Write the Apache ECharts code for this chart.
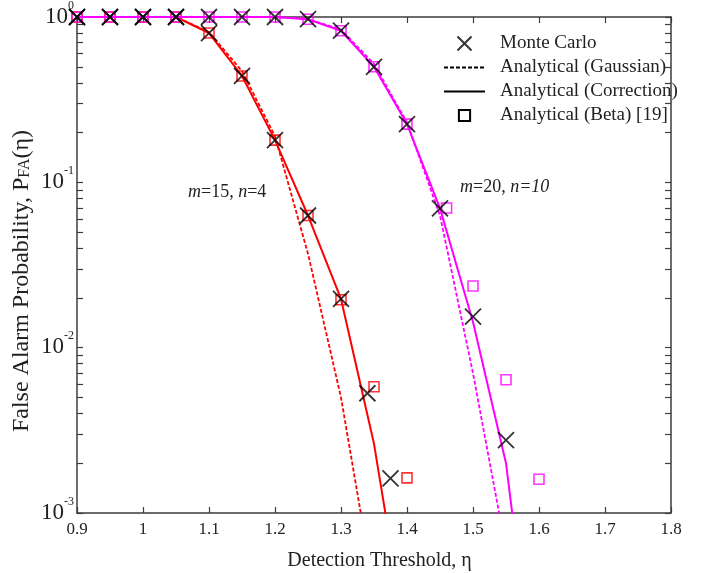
<!DOCTYPE html>
<html>
<head>
<meta charset="utf-8">
<script src="https://cdn.jsdelivr.net/npm/echarts@6/dist/echarts.min.js"></script>
<style>
html,body{margin:0;padding:0;background:#fff;}
#chart{width:708px;height:573px;}
</style>
</head>
<body>
<div id="chart"></div>
<script>
// ---------- data ----------
const xTicks = [0.9, 1.0, 1.1, 1.2, 1.3, 1.4, 1.5, 1.6, 1.7, 1.8];
const yLabelValues = [0.001, 0.01, 0.1, 1];

// m=15, n=4 (red)
const redEta = [0.9, 0.95, 1.0, 1.05, 1.1, 1.15, 1.2, 1.25, 1.3, 1.35, 1.4];
const redCorrection = [1, 1, 1, 1, 0.80, 0.44, 0.18, 0.063, 0.0197, 0.00262, 0.00016];
const redGaussEta = [0.9, 0.95, 1.0, 1.05, 1.1, 1.15, 1.2, 1.25, 1.3, 1.35];
const redGaussian = [1, 1, 1, 1, 0.81, 0.47, 0.19, 0.037, 0.005, 0.00034];
const redMCEta = [0.9, 0.95, 1.0, 1.05, 1.1, 1.15, 1.2, 1.25, 1.3, 1.34, 1.375];
const redMC = [1, 1, 1, 1, 0.80, 0.44, 0.18, 0.063, 0.0197, 0.0053, 0.00162];
const redBetaEta = [0.9, 0.95, 1.0, 1.05, 1.1, 1.15, 1.2, 1.25, 1.3, 1.35, 1.4];
const redBeta = [1, 1, 1, 1, 0.80, 0.44, 0.18, 0.063, 0.0195, 0.0058, 0.00163];

// m=20, n=10 (magenta)
const magEta = [0.9, 0.95, 1.0, 1.05, 1.1, 1.15, 1.2, 1.25, 1.3, 1.35, 1.4, 1.45, 1.5, 1.55, 1.6];
const magCorrection = [1, 1, 1, 1, 1, 1, 1, 0.97, 0.826, 0.50, 0.225, 0.0696, 0.0143, 0.0020, 0.00005];
const magGaussEta = [0.9, 0.95, 1.0, 1.05, 1.1, 1.15, 1.2, 1.25, 1.3, 1.35, 1.4, 1.45, 1.5, 1.55];
const magGaussian = [1, 1, 1, 1, 1, 1, 1, 0.97, 0.84, 0.52, 0.23, 0.063, 0.0070, 0.0006];
const magMCEta = [0.9, 0.95, 1.0, 1.05, 1.1, 1.15, 1.2, 1.25, 1.3, 1.35, 1.4, 1.45, 1.5, 1.55];
const magMC = [1, 1, 1, 1, 1, 1, 1, 0.97, 0.826, 0.50, 0.225, 0.0696, 0.0154, 0.00276];
const magBetaEta = [0.9, 0.95, 1.0, 1.05, 1.1, 1.15, 1.2, 1.25, 1.3, 1.35, 1.4, 1.46, 1.5, 1.55, 1.6];
const magBeta = [1, 1, 1, 1, 1, 1, 1, 0.97, 0.826, 0.50, 0.225, 0.07, 0.0236, 0.0064, 0.0016];

const legendNames = ['Monte Carlo', 'Analytical (Gaussian)', 'Analytical (Correction)', 'Analytical (Beta) [19]'];

// ---------- helpers ----------
const pair = (xs, ys) => xs.map((x, i) => [x, ys[i]]);
const FONT = '"Liberation Serif", "Times New Roman", serif';
const RED = '#ff0000', MAG = '#ff00ff', AX = '#3c3c3c', TXT = '#222';
const XPATH = 'path://M0,0L10,10M10,0L0,10';
const CLEAR = 'rgba(0,0,0,0)';

const minorTicks = [];
[0.001, 0.01, 0.1].forEach(d => { for (let k = 1; k <= 9; k++) minorTicks.push(+(d * k).toPrecision(3)); });
minorTicks.push(1);

const lineSeries = (name, data, color, dashed, z) => ({
  name, type: 'line', data, symbol: 'none', clip: true, z,
  lineStyle: { color, width: dashed ? 1.8 : 2, type: dashed ? [4, 2] : 'solid' },
  itemStyle: { color }
});
const squareSeries = (name, data, color, z) => ({
  name, type: 'scatter', data, symbol: 'rect', symbolSize: 10, z,
  itemStyle: { color: CLEAR, borderColor: color, borderWidth: 1.6 }
});

const chart = echarts.init(document.getElementById('chart'), null, { renderer: 'canvas' });

const xAxisBase = {
  type: 'value', min: 0.9, max: 1.8, interval: 0.1,
  axisLine: { show: true, onZero: false, lineStyle: { color: AX, width: 1.5 } },
  axisTick: { show: true, inside: true, length: 6, lineStyle: { color: AX, width: 1.2 } },
  splitLine: { show: false }
};
const yAxisBase = {
  type: 'log', logBase: 10, min: 0.001, max: 1,
  axisLine: { show: true, onZero: false, lineStyle: { color: AX, width: 1.5 } },
  axisTick: { show: true, inside: true, length: 6, customValues: minorTicks, lineStyle: { color: AX, width: 1.2 } },
  splitLine: { show: false }, minorTick: { show: false }
};

chart.setOption({
  animation: false,
  backgroundColor: '#fff',
  textStyle: { fontFamily: FONT },
  grid: { left: 77, right: 37, top: 17, bottom: 60, containLabel: false, outerBoundsMode: 'none' },
  xAxis: [
    Object.assign({}, xAxisBase, {
      position: 'bottom',
      axisLabel: { show: true, fontSize: 17, color: TXT, margin: 8, fontFamily: FONT,
        customValues: xTicks, formatter: v => String(+v.toFixed(1)) },
      name: 'Detection Threshold, η', nameLocation: 'middle', nameGap: 38, nameMoveOverlap: false,
      nameTextStyle: { fontSize: 20, color: TXT, fontFamily: FONT, padding: [0, 0, 0, 11] }
    }),
    Object.assign({}, xAxisBase, { position: 'top', axisLabel: { show: false } })
  ],
  yAxis: [
    Object.assign({}, yAxisBase, {
      position: 'left',
      axisLabel: {
        show: true, customValues: yLabelValues, margin: 3, color: TXT, fontFamily: FONT,
        padding: [0, 0, 6, 0],
        formatter: v => '{b|10}{s|' + Math.round(Math.log10(v)) + '}',
        rich: {
          b: { fontSize: 23, fontFamily: FONT, color: TXT, padding: [5, 0, 0, 0] },
          s: { fontSize: 12, fontFamily: FONT, color: TXT, padding: [0, 0, 17, 0] }
        }
      },
      name: '{a|False Alarm Probability, P}{sub|FA}{a|(η)}', nameLocation: 'middle', nameGap: 38,
      nameMoveOverlap: false,
      nameTextStyle: {
        padding: [0, 32, 0, 0],
        rich: {
          a: { fontSize: 24, fontFamily: FONT, color: TXT, padding: [0, 0, 5, 0] },
          sub: { fontSize: 16, fontFamily: FONT, color: TXT }
        }
      }
    }),
    Object.assign({}, yAxisBase, { position: 'right', axisLabel: { show: false } })
  ],
  legend: {
    data: legendNames, orient: 'vertical', left: 443, top: 34, padding: 0,
    itemWidth: 41, itemHeight: 14, itemGap: 5,
    textStyle: { fontSize: 19, fontFamily: FONT, color: TXT, lineHeight: 19, padding: [0, 0, 0, 10] },
    selectedMode: false, backgroundColor: CLEAR
  },
  graphic: [
    { type: 'text', left: 188, top: 183, z: 100,
      style: { text: '{i|m}{r|=15, }{i|n}{r|=4}', rich: {
        i: { fontSize: 18, fontStyle: 'italic', fontFamily: FONT, fill: TXT },
        r: { fontSize: 18, fontFamily: FONT, fill: TXT } } } },
    { type: 'text', left: 460, top: 178, z: 100,
      style: { text: '{i|m}{r|=20, }{i|n=10}', rich: {
        i: { fontSize: 18, fontStyle: 'italic', fontFamily: FONT, fill: TXT },
        r: { fontSize: 18, fontFamily: FONT, fill: TXT } } } }
  ],
  series: [
    // legend-only entries (black)
    { name: 'Analytical (Gaussian)', type: 'line', data: [], symbol: 'none',
      lineStyle: { color: '#000', width: 1.5, type: [4, 2] }, itemStyle: { color: CLEAR, borderWidth: 0 } },
    { name: 'Analytical (Correction)', type: 'line', data: [], symbol: 'none',
      lineStyle: { color: '#000', width: 1.8 }, itemStyle: { color: CLEAR, borderWidth: 0 } },
    { name: 'Analytical (Beta) [19]', type: 'line', data: [], symbol: 'rect',
      lineStyle: { color: CLEAR, width: 0.01 },
      itemStyle: { color: CLEAR, borderColor: '#000', borderWidth: 1.8 } },
    // red curves
    lineSeries('red-gauss', pair(redGaussEta, redGaussian), RED, true, 2),
    lineSeries('red-corr', pair(redEta, redCorrection), RED, false, 2),
    squareSeries('red-beta', pair(redBetaEta, redBeta), RED, 3),
    // magenta curves
    lineSeries('mag-gauss', pair(magGaussEta, magGaussian), MAG, true, 4),
    lineSeries('mag-corr', pair(magEta, magCorrection), MAG, false, 4),
    squareSeries('mag-beta', pair(magBetaEta, magBeta), MAG, 5),
    // Monte Carlo (black X)
    { name: 'Monte Carlo', type: 'scatter', z: 6, symbol: XPATH, symbolSize: 16,
      data: pair(redMCEta, redMC).concat(pair(magMCEta, magMC)),
      itemStyle: { color: CLEAR, borderColor: '#000', borderWidth: 1.8 } }
  ]
});
</script>
</body>
</html>
